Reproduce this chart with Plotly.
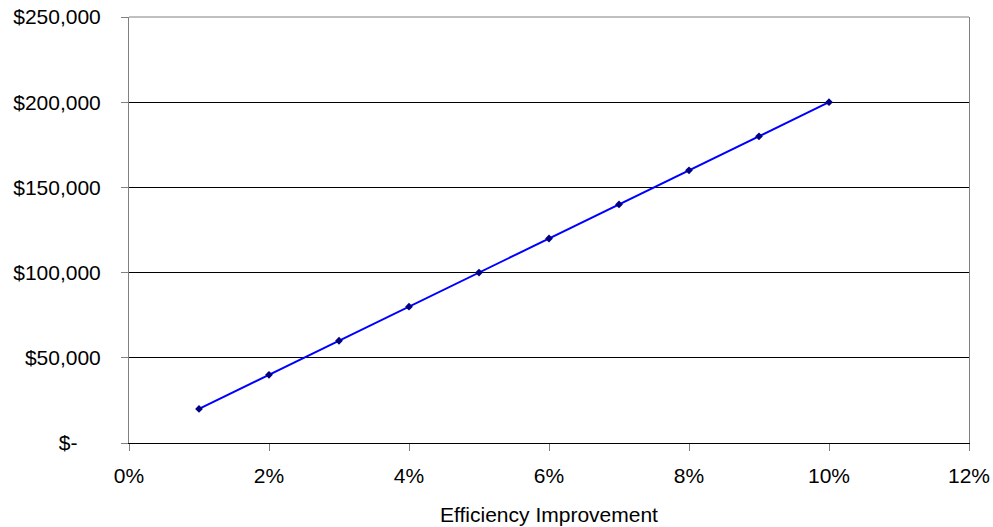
import plotly.graph_objects as go

efficiency = [0.01, 0.02, 0.03, 0.04, 0.05, 0.06, 0.07, 0.08, 0.09, 0.10]
savings = [20000, 40000, 60000, 80000, 100000, 120000, 140000, 160000, 180000, 200000]

x_ticks = [0, 0.02, 0.04, 0.06, 0.08, 0.10, 0.12]
x_labels = ["0%", "2%", "4%", "6%", "8%", "10%", "12%"]
y_ticks = [0, 50000, 100000, 150000, 200000, 250000]
y_labels = ["$-\u2007\u2007", "$50,000", "$100,000", "$150,000", "$200,000", "$250,000"]

FONT = "Liberation Sans, Arial, sans-serif"

fig = go.Figure()
fig.add_trace(go.Scatter(
    x=efficiency, y=savings, mode="lines+markers",
    line=dict(color="#0000FF", width=2),
    marker=dict(symbol="diamond", size=6, color="#000080"),
    showlegend=False,
))

fig.update_layout(
    width=993, height=527,
    margin=dict(l=129, r=24, t=17, b=84),
    paper_bgcolor="white", plot_bgcolor="white",
    font=dict(family=FONT, size=21, color="black"),
    xaxis=dict(
        range=[0, 0.12], tickvals=x_ticks, ticktext=x_labels,
        showline=True, linecolor="black", linewidth=1, mirror=False,
        ticks="outside", ticklen=7, tickcolor="#808080",
        showgrid=False, zeroline=False, automargin=False,
        ticklabelstandoff=7, ticklabeloverflow="allow",
        title=dict(text="Efficiency Improvement", font=dict(size=21), standoff=21),
    ),
    yaxis=dict(
        range=[0, 250000], tickvals=y_ticks, ticktext=y_labels,
        showline=True, linecolor="#808080", linewidth=1, mirror=True,
        ticks="outside", ticklen=7, tickcolor="#808080",
        showgrid=True, gridcolor="black", gridwidth=1,
        zeroline=False, ticklabelstandoff=16, automargin=False,
        ticklabeloverflow="allow",
    ),
    shapes=[dict(type="line", xref="paper", yref="paper", x0=0, x1=1, y0=1, y1=1,
                 line=dict(color="#808080", width=1))],
)

# remove the default page margin so the figure sits at the window's top-left corner
fig.write_html(
    "out.html",
    config={"displayModeBar": False},
    post_script="document.body.style.margin='0px';",
)
